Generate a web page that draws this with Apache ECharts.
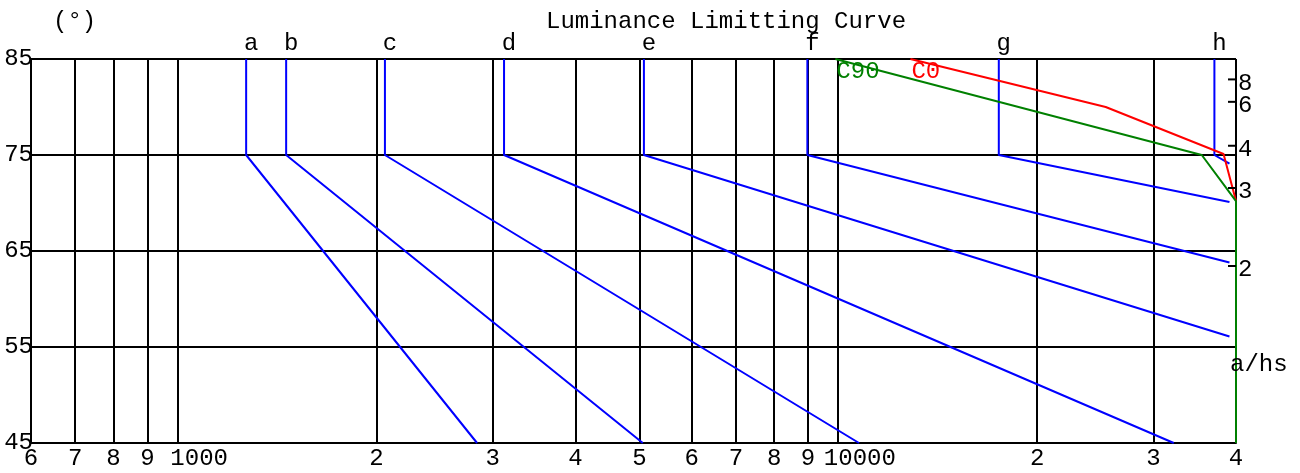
<!DOCTYPE html>
<html>
<head>
<meta charset="utf-8">
<script src="https://cdn.jsdelivr.net/npm/echarts@6/dist/echarts.min.js"></script>
<style>
html,body{margin:0;padding:0;background:#fff;}
#chart{width:1300px;height:473px;}
</style>
</head>
<body>
<div id="chart"></div>
<script>
// ---- data ----
const xTicks = [600, 700, 800, 900, 1000, 2000, 3000, 4000, 5000, 6000, 7000, 8000, 9000, 10000, 20000, 30000, 40000];
const yTicks = [45, 55, 65, 75, 85];
const xMin = 600, xMax = 40000, yMin = 45, yMax = 85;

const letters = ['a', 'b', 'c', 'd', 'e', 'f', 'g', 'h'];
const lumTop = [1270, 1460, 2060, 3120, 5080, 8980, 17500, 37100];   // vertical part, 85..75 deg
const kneeAngle = 75;
const endLum = [2840, 5060, 10750, 32200, 39100, 39100, 39100, 39100];
const endAngle = [45, 45, 45, 45, 56.1, 63.8, 70.1, 74.1];

const c0Lum = [12860, 25400, 38300, 40000, 40000];
const c0Ang = [85, 80, 75.1, 70.2, 45];
const c90Lum = [9900, 35500, 40000, 40000];
const c90Ang = [85, 75, 70.2, 45];

const ahsTicks = [8, 6, 4, 3, 2];

// ---- chart ----
const FONT = '"Courier New", "Liberation Mono", monospace';
const FS = 24;
const CW = FS * 0.6;

function xFmt(v) {
  const e = Math.floor(Math.log10(v) + 1e-9);
  const m = Math.round(v / Math.pow(10, e));
  if (m === 1) return '{p|' + Math.round(v) + '}';
  return String(m);
}

const series = [];
letters.forEach((l, i) => {
  series.push({
    name: l, type: 'line', symbol: 'none', z: 3,
    lineStyle: { color: '#0000ff', width: 2 },
    data: [[lumTop[i], yMax], [lumTop[i], kneeAngle], [endLum[i], endAngle[i]]]
  });
});
series.push({
  name: 'C0', type: 'line', symbol: 'none', z: 4,
  lineStyle: { color: '#ff0000', width: 2 },
  data: c0Lum.map((v, i) => [v, c0Ang[i]])
});
series.push({
  name: 'C90', type: 'line', symbol: 'none', z: 5,
  lineStyle: { color: '#008000', width: 2 },
  data: c90Lum.map((v, i) => [v, c90Ang[i]])
});
series.push({
  name: 'letters', type: 'scatter', symbolSize: 0, z: 6, silent: true,
  itemStyle: { opacity: 1 },
  label: { show: true, position: 'top', formatter: '{b}', distance: 3, offset: [5, 0],
           color: '#000', fontFamily: FONT, fontSize: FS, opacity: 1 },
  data: letters.map((l, i) => ({ name: l, value: [lumTop[i], yMax] }))
});
series.push({
  name: 'curveLabels', type: 'scatter', symbolSize: 0, z: 6, silent: true,
  itemStyle: { opacity: 1 },
  label: { show: true, position: 'right', formatter: '{b}', distance: 1, offset: [0, 13],
           fontFamily: FONT, fontSize: FS, opacity: 1 },
  data: [
    { name: 'C90', value: [c90Lum[0], c90Ang[0]], label: { color: '#008000' } },
    { name: 'C0', value: [c0Lum[0], c0Ang[0]], label: { color: '#ff0000' } }
  ]
});
series.push({
  name: 'a/hs', type: 'scatter', symbol: 'rect', symbolSize: [8, 2], symbolOffset: [-4, 0], z: 7, silent: true,
  itemStyle: { color: '#000', opacity: 1 },
  label: { show: true, position: 'right', formatter: '{b}', distance: 2, offset: [0, 4],
           color: '#000', fontFamily: FONT, fontSize: FS, opacity: 1 },
  data: ahsTicks.map(v => ({ name: String(v), value: [xMax, Math.atan(v) * 180 / Math.PI] }))
});

const chart = echarts.init(document.getElementById('chart'), null, { renderer: 'canvas' });
chart.setOption({
  animation: false,
  backgroundColor: '#fff',
  title: [
    { text: 'Luminance Limitting Curve', left: 541, top: 5,
      textStyle: { fontFamily: FONT, fontSize: FS, fontWeight: 'normal', color: '#000' } },
    { text: '(°)', left: 48, top: 5,
      textStyle: { fontFamily: FONT, fontSize: FS, fontWeight: 'normal', color: '#000' } },
    { text: 'a/hs', left: 1225, top: 348,
      textStyle: { fontFamily: FONT, fontSize: FS, fontWeight: 'normal', color: '#000' } }
  ],
  grid: { left: 31, right: 64, top: 59, bottom: 30, containLabel: false },
  xAxis: {
    type: 'log', logBase: 10, min: xMin, max: xMax,
    axisLine: { show: true, lineStyle: { color: '#000', width: 2 } },
    axisTick: { show: false, customValues: xTicks },
    axisLabel: {
      customValues: xTicks, formatter: xFmt, color: '#000', fontFamily: FONT, fontSize: FS, margin: 4,
      rich: { p: { padding: [0, 0, 0, 3 * CW], color: '#000', fontFamily: FONT, fontSize: FS } }
    },
    splitLine: { show: true, lineStyle: { color: '#000', width: 2 } }
  },
  yAxis: {
    type: 'value', min: yMin, max: yMax,
    axisLine: { show: true, lineStyle: { color: '#000', width: 2 } },
    axisTick: { show: false, customValues: yTicks },
    axisLabel: { customValues: yTicks, color: '#000', fontFamily: FONT, fontSize: FS, margin: -2, verticalAlign: 'middle', padding: [0, 0, 13, 0] },
    splitLine: { show: true, lineStyle: { color: '#000', width: 2 } }
  },
  series: series
});
</script>
</body>
</html>
